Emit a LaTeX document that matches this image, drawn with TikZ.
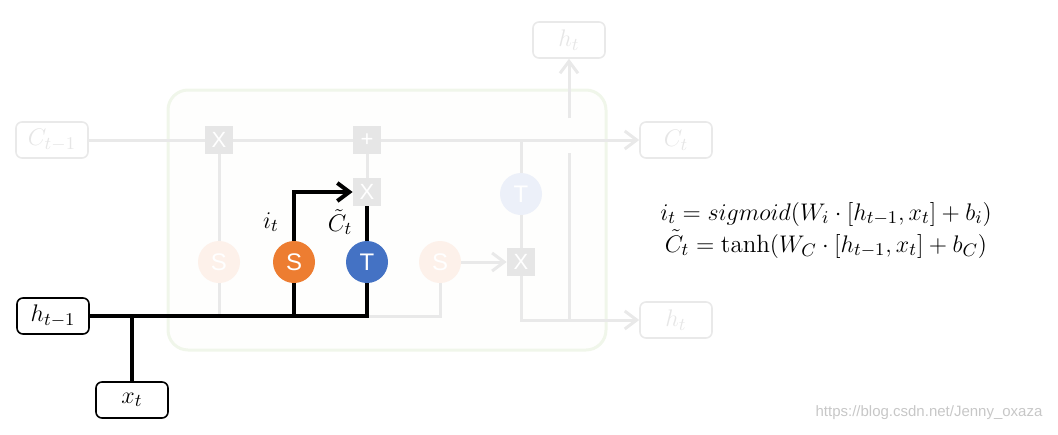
\documentclass[tikz,border=0pt]{standalone}
\usepackage{amsmath}
\usepackage{amssymb}
\usepackage{fontspec}
\setsansfont{Liberation Sans}
\usetikzlibrary{arrows.meta}

\definecolor{gorange}{HTML}{ED7D31}
\definecolor{gblue}{HTML}{4472C4}
\definecolor{faint}{HTML}{E6E6E6}
\definecolor{faintline}{HTML}{E9E9E9}
\definecolor{faintorange}{HTML}{FDF1EA}
\definecolor{faintblue}{HTML}{ECF0F9}
\definecolor{cellgreen}{HTML}{F0F6EA}

\begin{document}
\begin{tikzpicture}[x=0.5pt,y=-0.5pt,>={Straight Barb[length=6pt,width=9pt]},
  io/.style={rectangle,rounded corners=3pt,draw,line width=0.8pt,minimum width=36pt,minimum height=18pt,font=\fontsize{13}{15}\selectfont},
  fio/.style={io,draw=faintline,text=faint},
  gate/.style={rectangle,fill=faint,text=white,minimum size=14pt,inner sep=0pt,font=\sffamily\fontsize{11}{12}\selectfont},
  act/.style={circle,text=white,minimum size=21pt,inner sep=0pt,font=\sffamily\fontsize{12}{14}\selectfont},
  bold line/.style={line width=2pt,black},
  faint line/.style={line width=1.5pt,faintline}]
	\useasboundingbox (0,0) rectangle (1058,434);
	\draw[cellgreen,line width=1.5pt,fill=cellgreen!8,rounded corners=10pt] (168,90) rectangle (606,350);
	% inputs and outputs
	\node (cprev) at (52,140) [fio] {$C_{t-1}$};
	\node (cnext) at (676,140) [fio] {$C_t$};
	\node (htop) at (569,40) [fio] {$h_t$};
	\node (hnext) at (676,320) [fio] {$h_t$};
	\node (hprev) at (53,316) [io] {$h_{t-1}$};
	\node (xt) at (132,400) [io] {$x_t$};
	% gates
	\node (fmul) at (219,140) [gate] {X};
	\node (cadd) at (367,140) [gate] {+};
	\node (imul) at (367,192) [gate] {X};
	\node (omul) at (521,262) [gate] {X};
	\node (fsig) at (219,262) [act,fill=faintorange] {S};
	\node (isig) at (294,262) [act,fill=gorange] {S};
	\node (ctanh) at (367,262) [act,fill=gblue] {T};
	\node (osig) at (440,262) [act,fill=faintorange] {S};
	\node (otanh) at (521,194) [act,fill=faintblue] {T};
	\coordinate (ctap) at (521,140);
	\coordinate (hbus) at (569,320);
	\coordinate (hlow) at (569,153);
	\coordinate (hup) at (569,118);
	% faint connectors
	\draw[faint line] (cprev) -- (fmul);
	\draw[faint line] (fmul) -- (cadd);
	\draw[faint line,->] (cadd) -- (cnext);
	\draw[faint line] (fsig) -- (fmul);
	\draw[faint line] (fsig) -- (fsig |- hprev);
	\draw[faint line] (cadd) -- (imul);
	\draw[faint line] (ctanh |- hprev) -| (osig);
	\draw[faint line,->] (osig) -- (omul);
	\draw[faint line] (omul) -- (otanh);
	\draw[faint line] (otanh) -- (ctap);
	\draw[faint line,->] (omul) |- (hnext);
	\draw[faint line] (hbus) -- (hlow);
	\draw[faint line,->] (hup) -- (htop);
	% input gate
	\draw[bold line] (hprev) -- (hprev -| ctanh) -- (ctanh);
	\draw[bold line] (xt) -- (xt |- hprev);
	\draw[bold line] (isig) -- (isig |- hprev);
	\draw[bold line,->] (isig) |- (imul);
	\draw[bold line] (ctanh) -- (imul);
	\node (ilabel) at (271,222) [font=\fontsize{13}{15}\selectfont] {$i_t$};
	\node (clabel) at (340,222) [font=\fontsize{13}{15}\selectfont,inner sep=1pt] {$\tilde{C}_t$};
	% equations
	\node (eqs) at (826,230) [align=center,font=\fontsize{12.5}{15}\selectfont] {$i_t = sigmoid(W_i\cdot[h_{t-1},x_t]+b_i)$\\[1pt]$\tilde{C}_t = \tanh(W_C\cdot[h_{t-1},x_t]+b_C)$};
	\node (mark) at (929,413) [text=black!22,font=\sffamily\fontsize{7.5}{9}\selectfont] {https://blog.csdn.net/Jenny\_oxaza};
\end{tikzpicture}
\end{document}
